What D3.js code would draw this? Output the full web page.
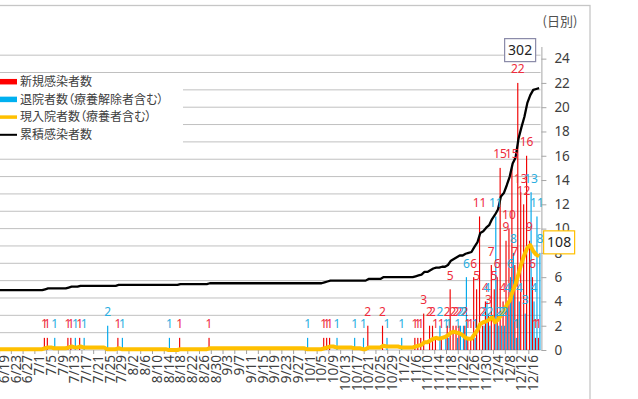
<!DOCTYPE html>
<html>
<head>
<meta charset="utf-8">
<script src="https://cdn.jsdelivr.net/npm/d3@7"></script>
<style>
  body { margin: 0; background: #fff; }
  svg { display: block; }
  text { font-family: "Noto Sans", "Liberation Sans", sans-serif; }
  .jp { font-family: "Noto Sans CJK JP", sans-serif; font-feature-settings: "palt"; }
</style>
</head>
<body>
<svg id="chart" width="638" height="399"></svg>
<script>
// visible part of the chart: 6/16 - 12/18 (the left side is cropped off)
const firstDay = new Date(2020, 5, 16);
const lastDay = new Date(2020, 11, 18);

// 新規感染者数 (date, count) - days without a bar are left out
const newCases = [
  ['7/3', 1], ['7/4', 1], ['7/11', 1], ['7/12', 1], ['7/15', 1], ['7/28', 1],
  ['8/18', 1], ['8/28', 1],
  ['10/6', 1], ['10/7', 1], ['10/8', 1], ['10/21', 2], ['10/26', 2],
  ['11/6', 1], ['11/7', 1], ['11/8', 1], ['11/9', 3], ['11/11', 2], ['11/12', 2],
  ['11/13', 1], ['11/15', 1], ['11/17', 2], ['11/18', 5], ['11/19', 2], ['11/20', 2],
  ['11/21', 2], ['11/23', 2], ['11/24', 1], ['11/25', 1], ['11/26', 6], ['11/27', 5],
  ['11/28', 11], ['11/29', 2], ['11/30', 4],
  ['12/1', 3], ['12/2', 7], ['12/3', 5], ['12/4', 6], ['12/5', 15], ['12/6', 4],
  ['12/7', 9], ['12/8', 10], ['12/9', 15], ['12/10', 7], ['12/11', 22], ['12/12', 13],
  ['12/13', 12], ['12/14', 16], ['12/15', 9], ['12/16', 6], ['12/17', 1], ['12/18', 1]
];

// 退院者数（療養解除者含む）
const discharged = [
  ['7/6', 1], ['7/13', 1], ['7/16', 1], ['7/24', 2], ['7/29', 1], ['8/14', 1],
  ['9/30', 1], ['10/10', 1], ['10/16', 1], ['10/19', 1], ['10/27', 1], ['11/1', 1],
  ['11/14', 2], ['11/16', 1], ['11/17', 1], ['11/20', 1], ['11/21', 2], ['11/22', 2],
  ['11/23', 6], ['11/26', 1], ['11/29', 2], ['11/30', 4],
  ['12/1', 2], ['12/3', 11], ['12/4', 2], ['12/5', 2], ['12/6', 2], ['12/7', 4],
  ['12/8', 6], ['12/9', 8], ['12/10', 1], ['12/11', 4], ['12/13', 3], ['12/15', 13],
  ['12/16', 4], ['12/17', 11], ['12/18', 8]
];

// 現入院者数（療養者含む）, one value per day from 6/16
const hospitalized = [
  1, 1, 1, 1, 1, 1, 1, 1, 1, 1, 1, 1, 1, 1, 1,                                   // 6/16-
  1, 1, 2, 3, 3, 2, 2, 2, 2, 2, 3, 4, 3, 3, 4, 3, 3, 3, 3, 3, 3, 3, 3, 1, 1, 1, 1, 2, 1, 1, 1, // 7/1-
  1, 1, 1, 1, 1, 1, 1, 1, 1, 1, 1, 1, 1, 0, 0, 0, 0, 1, 1, 1, 1, 1, 1, 1, 1, 1, 1, 2, 2, 2, 2, // 8/1-
  2, 2, 2, 2, 2, 2, 2, 2, 2, 2, 2, 2, 2, 2, 2, 2, 2, 2, 2, 2, 2, 2, 2, 2, 2, 2, 2, 2, 2, 1,    // 9/1-
  1, 1, 1, 1, 1, 2, 3, 4, 4, 3, 3, 3, 3, 3, 3, 2, 2, 2, 1, 1, 3, 3, 3, 3, 3, 5, 4, 4, 4, 4, 4, // 10/1-
  3, 3, 3, 3, 3, 4, 5, 6, 9, 9, 11, 13, 14, 13, 14, 15, 17, 20, 21, 20, 19, 17, 14, 13, 13,
  18, 23, 30, 32, 33,                                                              // 11/1-
  35, 38, 32, 35, 40, 45, 52, 57, 68, 76, 88, 100, 110, 118, 121, 114, 110, 108      // 12/1-
];

// 累積感染者数 before the first visible day
const cumulativeBefore = 69;

const legendItems = [
  { label: '新規感染者数', color: '#FF0000', kind: 'bar' },
  { label: '退院者数（療養解除者含む）', color: '#00B0F0', kind: 'bar' },
  { label: '現入院者数（療養者含む）', color: '#FFC000', kind: 'thick' },
  { label: '累積感染者数', color: '#000000', kind: 'line' }
];

const leftGrid = d3.range(20, 341, 20);     // left axis (cumulative), 0-350
const rightTicks = d3.range(0, 25, 2);      // right axis (日別), 0-25

const fmt = d3.timeFormat('%-m/%-d');
const days = d3.timeDay.range(firstDay, d3.timeDay.offset(lastDay, 1));
const keys = days.map(fmt);

const newMap = new Map(newCases);
const dailyNew = keys.map(k => newMap.get(k) || 0);
const cumulative = Array.from(d3.cumsum(dailyNew), v => v + cumulativeBefore);

const svg = d3.select('#chart');
const plotBottom = 350, plotTop = 46.5;

const x = d3.scaleBand().domain(keys).range([-6.3, 540.6]);
const bw = x.bandwidth();
const cx = k => x(k) + bw / 2;
const yL = d3.scaleLinear().domain([0, 350]).range([plotBottom, plotTop]);
const yR = d3.scaleLinear().domain([0, 25]).range([plotBottom, plotTop]);
const plotRight = x.range()[1];

// chart frame
svg.append('rect')
  .attr('x', -5).attr('y', 5.5).attr('width', 595).attr('height', 420)
  .attr('fill', 'none').attr('stroke', '#c6c6c6').attr('stroke-width', 1.3);

// grid lines
svg.append('g').selectAll('line').data(leftGrid).join('line')
  .attr('x1', -10).attr('x2', plotRight)
  .attr('y1', d => yL(d)).attr('y2', d => yL(d))
  .attr('stroke', '#c0c0c0').attr('stroke-width', 1);

// x axis
svg.append('line').attr('x1', -10).attr('x2', plotRight)
  .attr('y1', plotBottom).attr('y2', plotBottom).attr('stroke', '#bdbdbd');

const labelled = keys.filter((k, i) => (i - 3) % 4 === 0);
svg.append('g').selectAll('line').data(keys.filter((k, i) => i % 4 === 2)).join('line')
  .attr('x1', k => x(k)).attr('x2', k => x(k))
  .attr('y1', plotBottom).attr('y2', plotBottom + 4)
  .attr('stroke', '#a0a0a0');

svg.append('g').selectAll('text').data(labelled).join('text')
  .attr('transform', k => `translate(${cx(k)},${plotBottom + 5}) rotate(-90)`)
  .attr('text-anchor', 'end').attr('dy', '0.36em')
  .attr('font-size', 13.5).attr('fill', '#404040')
  .text(k => k);

// right axis
const axisR = svg.append('g')
  .attr('transform', `translate(${plotRight + 0.8},0)`)
  .call(d3.axisRight(yR).tickValues(rightTicks).tickSize(5).tickSizeOuter(0).tickPadding(8));
axisR.select('.domain').attr('stroke', '#a6a6a6');
axisR.selectAll('.tick line').attr('stroke', '#a6a6a6');
axisR.selectAll('.tick text').attr('fill', '#404040').attr('font-size', 13.5)
  .attr('font-family', '"Noto Sans", sans-serif');

svg.append('text').attr('class', 'jp')
  .attr('x', 560).attr('y', 26).attr('text-anchor', 'middle')
  .attr('font-size', 13).attr('fill', '#505050')
  .text('(日別)');

// bars
const redBars = newCases.filter(d => keys.includes(d[0]));
const blueBars = discharged.filter(d => keys.includes(d[0]));

svg.append('g').selectAll('rect').data(redBars).join('rect')
  .attr('x', d => cx(d[0]) - 1.35).attr('width', 1.15)
  .attr('y', d => yR(d[1])).attr('height', d => plotBottom - yR(d[1]))
  .attr('fill', '#F00000');

svg.append('g').selectAll('rect').data(blueBars).join('rect')
  .attr('x', d => cx(d[0]) + 0.2).attr('width', 1.15)
  .attr('y', d => yR(d[1])).attr('height', d => plotBottom - yR(d[1]))
  .attr('fill', '#00A8EC');

// lines
svg.append('path')
  .datum(hospitalized)
  .attr('d', d3.line().x((d, i) => cx(keys[i])).y(d => yL(d)))
  .attr('fill', 'none').attr('stroke', '#FFC000').attr('stroke-width', 4)
  .attr('stroke-linejoin', 'round');

svg.append('path')
  .datum(cumulative)
  .attr('d', d3.line().x((d, i) => cx(keys[i])).y(d => yL(d)))
  .attr('fill', 'none').attr('stroke', '#000').attr('stroke-width', 2.3)
  .attr('stroke-linejoin', 'round');

// data labels
svg.append('g').selectAll('text').data(redBars).join('text')
  .attr('x', d => cx(d[0]) - 0.8).attr('y', d => yR(d[1]) - 9.5)
  .attr('text-anchor', 'middle').attr('font-size', 12)
  .attr('font-family', '"Liberation Sans", sans-serif')
  .attr('fill', '#EE2C3C').text(d => d[1]);

svg.append('g').selectAll('text').data(blueBars).join('text')
  .attr('x', d => cx(d[0]) + 0.8).attr('y', d => yR(d[1]) - 9.5)
  .attr('text-anchor', 'middle').attr('font-size', 12)
  .attr('font-family', '"Liberation Sans", sans-serif')
  .attr('fill', '#2AAEE0').text(d => d[1]);

// end-value labels of the two lines
const lastKey = keys[keys.length - 1];
const endLabels = [
  { value: cumulative[cumulative.length - 1], dx: -19, dy: -38, stroke: '#8a8aa8' },
  { value: hospitalized[hospitalized.length - 1], dx: 20, dy: -14, stroke: '#FFC000' }
];
endLabels.forEach(l => {
  const px = cx(lastKey) + l.dx, py = yL(l.value) + l.dy;
  svg.append('rect')
    .attr('x', px - 15.5).attr('y', py - 11.5).attr('width', 31).attr('height', 23)
    .attr('fill', '#fff').attr('stroke', l.stroke).attr('stroke-width', 1.2);
  svg.append('text')
    .attr('x', px).attr('y', py).attr('dy', '0.36em')
    .attr('text-anchor', 'middle').attr('font-size', 14).attr('fill', '#222')
    .text(l.value);
});

// legend
const legend = svg.append('g');
legend.append('rect').attr('x', -10).attr('y', 74).attr('width', 193).attr('height', 70)
  .attr('fill', '#fff');
legendItems.forEach((item, i) => {
  const ly = 81.7 + i * 17.7;
  const h = item.kind === 'bar' ? 5.5 : item.kind === 'thick' ? 3.5 : 2;
  legend.append('rect').attr('x', -10).attr('y', ly - h / 2).attr('width', 27).attr('height', h)
    .attr('fill', item.color);
  legend.append('text').attr('class', 'jp')
    .attr('x', 20).attr('y', ly).attr('dy', '0.36em')
    .attr('font-size', 12).attr('fill', '#404040')
    .text(item.label);
});
</script>
</body>
</html>
